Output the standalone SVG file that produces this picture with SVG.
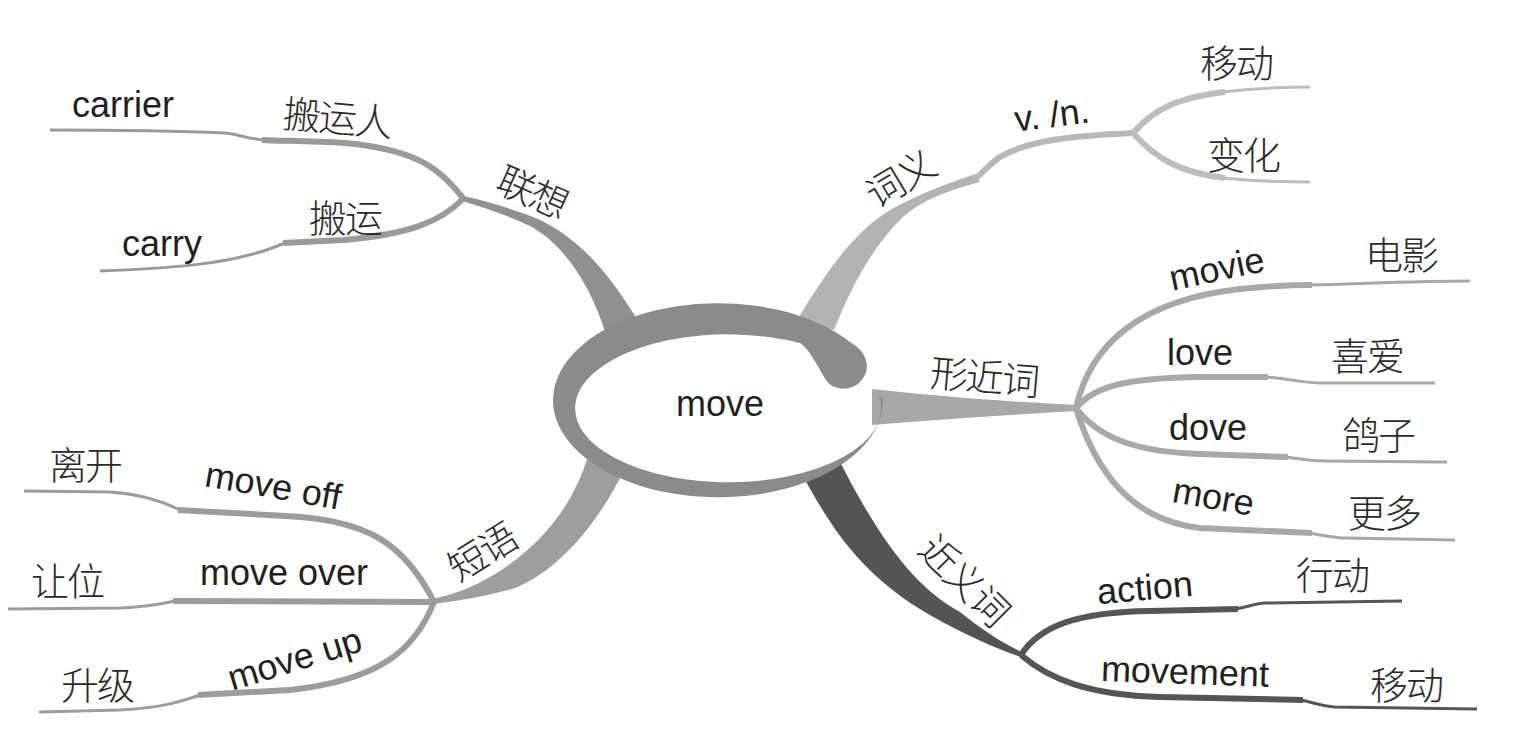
<svg xmlns="http://www.w3.org/2000/svg" width="1522" height="741" viewBox="0 0 1522 741">
<style>
.en{font-family:"Liberation Sans",Arial,sans-serif;font-size:36px;fill:#231f20}
.cn{font-family:"Noto Sans CJK SC","Noto Sans CJK JP",sans-serif;font-size:38px;letter-spacing:-2px;fill:#2a2a2a;font-weight:300}
.thin{fill:none;stroke-width:3;stroke-linecap:butt}
.thick{fill:none;stroke-width:6;stroke-linecap:butt}
.g1{stroke:#9a9a9a}
.g2{stroke:#bdbdbd}
.g3{stroke:#a8a8a8}
.g4{stroke:#555555}
.g5{stroke:#9c9c9c}
</style>
<rect width="1522" height="741" fill="#ffffff"/>
<g id="connectors">
  <!-- main tapered branches -->
  <path id="br-lianxiang" fill="#909090" d="M640,324 C612,278 578,232 525,214 Q492,202 463,196 L462,201 Q500,212 530,226 C560,242 590,280 607,338 Z"/>
  <path id="br-ciyi" fill="#b3b3b3" d="M797,320 C825,275 850,235 890,210 C920,193 950,183 975,174 L980,182 C950,190 920,200 900,220 C870,250 850,290 834,330 Z"/>
  <path id="br-ciyi-tail" class="thick" stroke="#b8b8b8" d="M974,180 C985,170 990,164 1000,157 C1030,140 1070,136 1133,133"/>
  <path id="br-xingjin" fill="#a8a8a8" d="M872,389 Q960,399 1076,405 L1076,411 Q960,418 872,425 Z"/>
  <path id="br-jinyi" fill="#545454" d="M804,478 C830,525 860,575 930,615 C965,635 995,648 1021,657 L1022,652 C1000,642 980,628 960,612 C920,590 885,550 840,462 Z"/>
  <path id="br-duanyu" fill="#9e9e9e" d="M588,456 C575,500 545,545 490,577 Q465,592 433,599 L433,604 Q480,598 515,588 C560,570 600,520 624,470 Z"/>

  <!-- 联想 subs -->
  <path class="thick g1" d="M463,198 C440,170 420,150 345,143 C310,141 285,141 262,140"/>
  <path class="thin g1" d="M264,140 C248,139 238,134 225,133 C180,131 120,130 50,130"/>
  <path class="thick g1" d="M463,199 C440,222 410,234 344,240 C320,241 300,242 283,243"/>
  <path class="thin g1" d="M285,243 C268,250 258,253 249,255 C220,263 180,268 100,271"/>

  <!-- 词义 subs -->
  <path class="thick g2" stroke-width="5" d="M1133,133 C1155,108 1180,97 1225,92"/>
  <path class="thin g2" d="M1223,92 C1250,89 1280,87 1310,87"/>
  <path class="thick g2" stroke-width="5" d="M1133,133 C1155,158 1180,173 1225,178"/>
  <path class="thin g2" d="M1223,178 C1250,181 1280,182 1310,182"/>

  <!-- 形近词 subs -->
  <path class="thick g3" d="M1076,408 C1090,345 1140,300 1240,289 C1270,286 1290,285 1312,285"/>
  <path class="thin g3" d="M1310,285 C1380,283 1430,281 1470,281"/>
  <path class="thick g3" d="M1076,408 C1095,385 1130,378 1200,377 L1268,377"/>
  <path class="thin g3" d="M1266,377 C1285,378 1295,382 1320,383 L1435,383"/>
  <path class="thick g3" d="M1076,408 C1100,440 1140,452 1200,454 L1288,457"/>
  <path class="thin g3" d="M1286,457 C1300,459 1310,461 1325,461 L1447,462"/>
  <path class="thick g3" d="M1076,408 C1095,470 1130,520 1200,528 L1312,533"/>
  <path class="thin g3" d="M1310,533 C1325,536 1335,538 1345,538 L1455,540"/>

  <!-- 近义词 subs -->
  <path class="thick g4" d="M1021,655 C1040,625 1080,612 1150,611 L1238,609"/>
  <path class="thin g4" d="M1236,609 C1250,606 1258,603 1265,603 L1402,601"/>
  <path class="thick g4" d="M1021,655 C1050,680 1090,695 1160,697 L1303,700"/>
  <path class="thin g4" d="M1301,700 C1315,703 1322,706 1335,707 L1477,709"/>

  <!-- 短语 subs -->
  <path class="thick g5" d="M434,602 C405,545 370,520 286,516 L178,510"/>
  <path class="thin g5" d="M180,510 C160,500 140,494 110,492 L24,491"/>
  <path class="thick g5" d="M434,602 L173,601"/>
  <path class="thin g5" d="M175,601 C160,604 150,607 120,608 L8,609"/>
  <path class="thick g5" d="M434,602 C415,650 380,680 290,690 L198,695"/>
  <path class="thin g5" d="M200,695 C180,702 160,708 120,710 L39,712"/>
</g>

<g id="node-center">
  <path fill="#8b8b8b" d="M883,398 A165,97 0 1 1 850,342 C868,352 872,370 860,382 C850,392 832,390 826,380 C815,362 810,350 800,343 A153,74 0 1 0 879,396 Z"/>
  <text class="en" x="720" y="416" text-anchor="middle" font-size="37">move</text>
</g>

<g id="node-lianxiang"><text class="cn" x="532" y="206" text-anchor="middle" transform="rotate(24 532 192)">联想</text></g>
<g id="node-banyunren"><text class="cn" x="283" y="132" transform="rotate(5 338 118)">搬运人</text></g>
<g id="node-carrier"><text class="en" x="72" y="117">carrier</text></g>
<g id="node-banyun"><text class="cn" x="309" y="232">搬运</text></g>
<g id="node-carry"><text class="en" x="122" y="256">carry</text></g>

<g id="node-ciyi"><text class="cn" x="900" y="193" text-anchor="middle" transform="rotate(-31 900 179)">词义</text></g>
<g id="node-vn"><text class="en" x="1052" y="127" text-anchor="middle" transform="rotate(-7 1052 116)">v. /n.</text></g>
<g id="node-yidong1"><text class="cn" x="1200" y="77">移动</text></g>
<g id="node-bianhua"><text class="cn" x="1207" y="169">变化</text></g>

<g id="node-xingjinci"><text class="cn" x="984" y="391" text-anchor="middle" transform="rotate(5 984 377)">形近词</text></g>
<g id="node-movie"><text class="en" x="1217" y="281" text-anchor="middle" transform="rotate(-12 1217 270)">movie</text></g>
<g id="node-dianying"><text class="cn" x="1365" y="269">电影</text></g>
<g id="node-love"><text class="en" x="1167" y="365">love</text></g>
<g id="node-xiai"><text class="cn" x="1331" y="370">喜爱</text></g>
<g id="node-dove"><text class="en" x="1169" y="440">dove</text></g>
<g id="node-gezi"><text class="cn" x="1342" y="449">鸽子</text></g>
<g id="node-more"><text class="en" x="1213" y="509" text-anchor="middle" transform="rotate(10 1213 500)">more</text></g>
<g id="node-gengduo"><text class="cn" x="1348" y="527">更多</text></g>

<g id="node-jinyici"><text class="cn" x="964" y="594" text-anchor="middle" transform="rotate(45 964 580)">近义词</text></g>
<g id="node-action"><text class="en" x="1145" y="600" text-anchor="middle" transform="rotate(-5 1145 590)">action</text></g>
<g id="node-xingdong"><text class="cn" x="1296" y="589">行动</text></g>
<g id="node-movement"><text class="en" x="1101" y="684" transform="rotate(2 1187 672)">movement</text></g>
<g id="node-yidong2"><text class="cn" x="1370" y="699">移动</text></g>

<g id="node-duanyu"><text class="cn" x="482" y="566" text-anchor="middle" transform="rotate(-32 482 552)">短语</text></g>
<g id="node-moveoff"><text class="en" x="273" y="498" text-anchor="middle" transform="rotate(10 273 488)">move off</text></g>
<g id="node-likai"><text class="cn" x="49" y="479">离开</text></g>
<g id="node-moveover"><text class="en" x="200" y="585">move over</text></g>
<g id="node-rangwei"><text class="cn" x="31" y="595">让位</text></g>
<g id="node-moveup"><text class="en" x="295" y="671" text-anchor="middle" transform="rotate(-17 295 660)">move up</text></g>
<g id="node-shengji"><text class="cn" x="61" y="699">升级</text></g>
</svg>
